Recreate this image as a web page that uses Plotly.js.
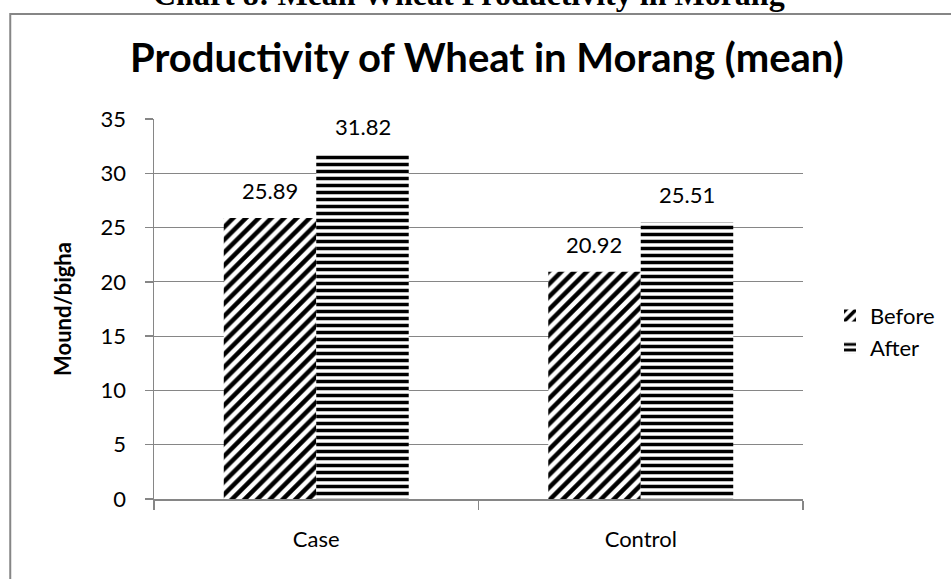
<!DOCTYPE html>
<html>
<head>
<meta charset="utf-8">
<script src="https://cdn.plot.ly/plotly-3.0.1.min.js"></script>
<style>
  body { margin: 0; background: #fff; }
  #chart { width: 951px; height: 579px; }
</style>
</head>
<body>
<div id="chart"></div>
<script>
// data
var groups = ["Case", "Control"];
var before = [25.89, 20.92];
var after = [31.82, 25.51];
var seriesNames = ["Before", "After"];

var font = "Lato, 'Open Sans', sans-serif";

var traces = [
  {
    x: groups, y: before, name: seriesNames[0], type: "bar",
    marker: { color: "white", pattern: { shape: "/", fgcolor: "black", bgcolor: "white", size: 9, solidity: 0.5 } },
    hoverinfo: "y"
  },
  {
    x: groups, y: after, name: seriesNames[1], type: "bar",
    marker: { color: "white", pattern: { shape: "-", fgcolor: "black", bgcolor: "white", size: 7, solidity: 0.5 } },
    hoverinfo: "y"
  }
];

// value labels above each bar
var labels = [];
[before, after].forEach(function (vals, s) {
  vals.forEach(function (v, i) {
    labels.push({
      x: groups[i], y: v, text: v.toFixed(2), showarrow: false,
      xshift: s === 0 ? -46.5 : 46.5, yanchor: "bottom", yshift: 12,
      font: { family: font, size: 22, color: "black" }
    });
  });
});

// the cut-off caption above the chart box
labels.push({
  xref: "paper", yref: "paper", x: 0.485, y: 1.329, xanchor: "center", yanchor: "middle",
  text: "<b>Chart 8: Mean Wheat Productivity in Morang</b>", showarrow: false,
  font: { family: "'Liberation Serif', 'Times New Roman', serif", size: 32, color: "black" }
});

var layout = {
  width: 951, height: 579,
  margin: { l: 154, r: 147, t: 119, b: 80 },
  paper_bgcolor: "white", plot_bgcolor: "white",
  font: { family: font, size: 22, color: "black" },
  title: {
    text: "<b>Productivity of Wheat in Morang (mean)</b>",
    font: { family: font, size: 40, color: "black" },
    x: 0.512, xanchor: "center", y: 0.9, yanchor: "middle"
  },
  barmode: "group", bargap: 0.43, bargroupgap: 0,
  xaxis: {
    showline: true, linecolor: "#868686", linewidth: 2,
    ticks: "outside", ticklen: 9, tickcolor: "#868686", tickwidth: 1.5,
    tickson: "boundaries", ticklabelstandoff: 20,
    tickfont: { size: 22 }
  },
  yaxis: {
    range: [0, 35], dtick: 5, tick0: 0,
    showgrid: true, gridcolor: "#868686", gridwidth: 1,
    showline: true, linecolor: "#868686", linewidth: 1.5,
    ticks: "outside", ticklen: 8, tickcolor: "#868686", tickwidth: 1.5,
    ticklabelstandoff: 14, zeroline: false,
    tickfont: { size: 22 },
    title: { text: "<b>Mound/bigha</b>", font: { size: 22 }, standoff: 23 }
  },
  legend: {
    x: 1.04, xanchor: "left", y: 0.44, yanchor: "middle",
    font: { size: 22 }, bgcolor: "rgba(0,0,0,0)"
  },
  annotations: labels,
  shapes: [{
    type: "rect", xref: "paper", yref: "paper",
    x0: -0.2215, x1: 1.25, y0: -0.3, y1: 1.2763,
    line: { color: "#868686", width: 2 }
  }]
};

Plotly.newPlot("chart", traces, layout, { displayModeBar: false, staticPlot: true });
</script>
</body>
</html>
